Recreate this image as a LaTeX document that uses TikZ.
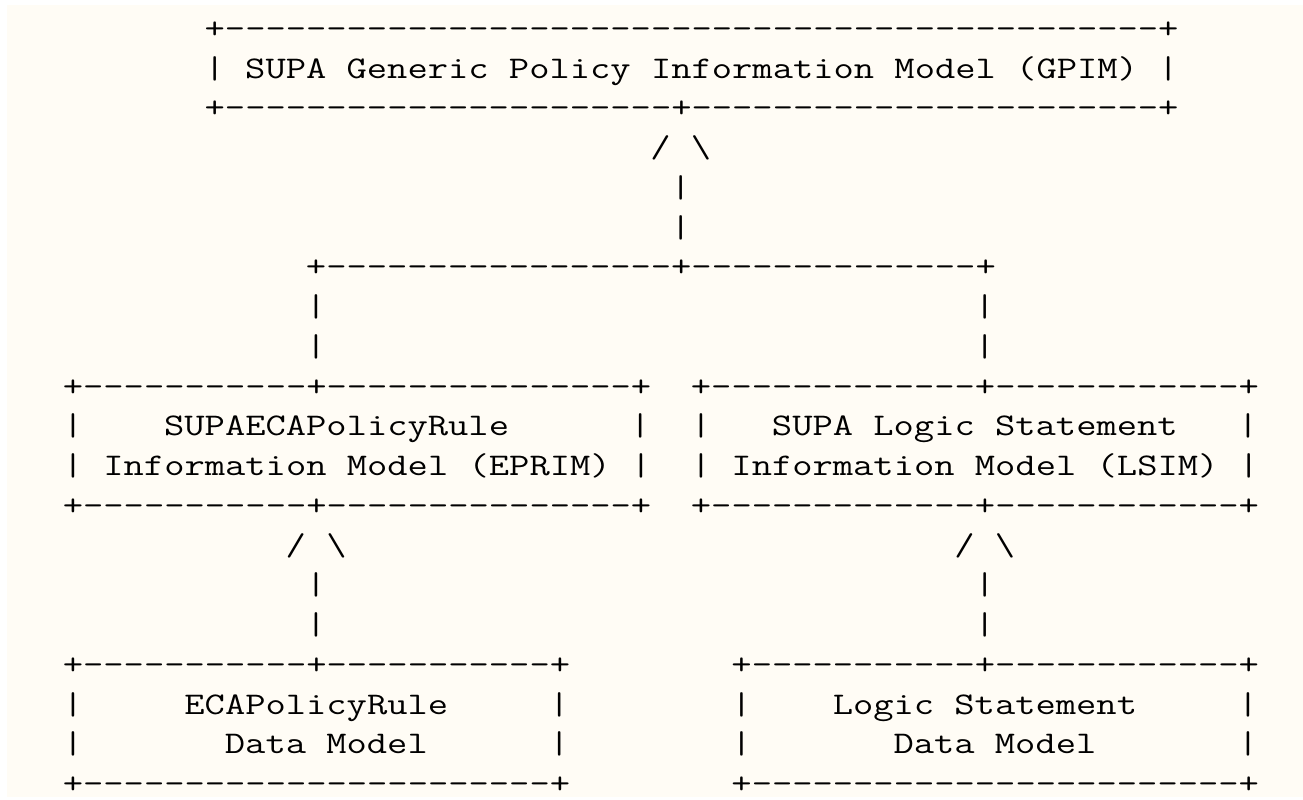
\documentclass[tikz,border=0pt]{standalone}
\usepackage{fontspec}
\usepackage{graphicx}
\definecolor{paper}{RGB}{255,252,245}
\newcommand\squash[1]{\scalebox{1}[0.8]{#1}}

\begin{document}
\begin{tikzpicture}[x=15.195pt, y=-29.805pt,
    ascii/.style={font=\ttfamily\fontsize{29.546pt}{30pt}\selectfont, anchor=base west, inner sep=0pt, outer sep=0pt}]
        %foglio
        \useasboundingbox (-3.103,-0.9688) rectangle (61.21,19.137);
        \fill[paper] (-2.758,-0.843) rectangle (61.21,19.087);
        %modello generico GPIM
        \node[ascii] (gpimtop) at (7,0) {\squash{+----------------------------------------------+}};
        \node[ascii] (gpimtxt) at (7,1) {\squash{| SUPA Generic Policy Information Model (GPIM) |}};
        \node[ascii] (gpimbot) at (7,2) {\squash{+----------------------+-----------------------+}};
        \node[ascii] (gpimtip) at (29,3) {\squash{/ \textbackslash}};
        \node[ascii] (gpimst1) at (30,4) {\squash{|}};
        \node[ascii] (gpimst2) at (30,5) {\squash{|}};
        %ramificazione
        \node[ascii] (branch) at (12,6) {\squash{+-----------------+--------------+}};
        \node[ascii] (brl1) at (12,7) {\squash{|}};
        \node[ascii] (brl2) at (12,8) {\squash{|}};
        \node[ascii] (brr1) at (45,7) {\squash{|}};
        \node[ascii] (brr2) at (45,8) {\squash{|}};
        %modello EPRIM
        \node[ascii] (eprimtop) at (0,9) {\squash{+-----------+---------------+}};
        \node[ascii] (eprimla) at (0,10) {\squash{|}};
        \node[ascii] (eprimtxta) at (5,10) {\squash{SUPAECAPolicyRule}};
        \node[ascii] (eprimra) at (28,10) {\squash{|}};
        \node[ascii] (eprimtxtb) at (0,11) {\squash{| Information Model (EPRIM) |}};
        \node[ascii] (eprimbot) at (0,12) {\squash{+-----------+---------------+}};
        %modello LSIM
        \node[ascii] (lsimtop) at (31,9) {\squash{+-------------+------------+}};
        \node[ascii] (lsimla) at (31,10) {\squash{|}};
        \node[ascii] (lsimtxta) at (35,10) {\squash{SUPA Logic Statement}};
        \node[ascii] (lsimra) at (58,10) {\squash{|}};
        \node[ascii] (lsimtxtb) at (31,11) {\squash{| Information Model (LSIM) |}};
        \node[ascii] (lsimbot) at (31,12) {\squash{+-------------+------------+}};
        %frecce verso i modelli dati
        \node[ascii] (eprimtip) at (11,13) {\squash{/ \textbackslash}};
        \node[ascii] (eprimst1) at (12,14) {\squash{|}};
        \node[ascii] (eprimst2) at (12,15) {\squash{|}};
        \node[ascii] (lsimtip) at (44,13) {\squash{/ \textbackslash}};
        \node[ascii] (lsimst1) at (45,14) {\squash{|}};
        \node[ascii] (lsimst2) at (45,15) {\squash{|}};
        %modello dati ECA
        \node[ascii] (ecatop) at (0,16) {\squash{+-----------+-----------+}};
        \node[ascii] (ecala) at (0,17) {\squash{|}};
        \node[ascii] (ecatxta) at (6,17) {\squash{ECAPolicyRule}};
        \node[ascii] (ecara) at (24,17) {\squash{|}};
        \node[ascii] (ecalb) at (0,18) {\squash{|}};
        \node[ascii] (ecatxtb) at (8,18) {\squash{Data Model}};
        \node[ascii] (ecarb) at (24,18) {\squash{|}};
        \node[ascii] (ecabot) at (0,19) {\squash{+-----------------------+}};
        %modello dati logico
        \node[ascii] (lsdtop) at (33,16) {\squash{+-----------+------------+}};
        \node[ascii] (lsdla) at (33,17) {\squash{|}};
        \node[ascii] (lsdtxta) at (38,17) {\squash{Logic Statement}};
        \node[ascii] (lsdra) at (58,17) {\squash{|}};
        \node[ascii] (lsdlb) at (33,18) {\squash{|}};
        \node[ascii] (lsdtxtb) at (41,18) {\squash{Data Model}};
        \node[ascii] (lsdrb) at (58,18) {\squash{|}};
        \node[ascii] (lsdbot) at (33,19) {\squash{+------------------------+}};
\end{tikzpicture}
\end{document}
